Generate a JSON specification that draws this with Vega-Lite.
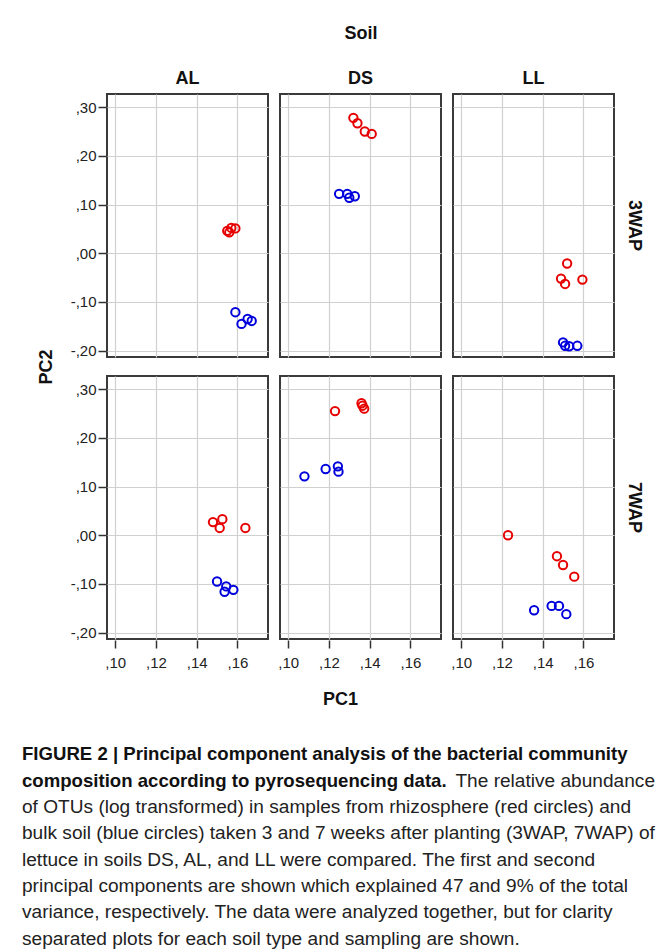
{
  "$schema": "https://vega.github.io/schema/vega-lite/v6.json",
  "background": "white",
  "padding": {"left": 22, "top": 25, "right": 10, "bottom": 5},
  "datasets": {
    "pca": [
      {"Soil": "AL", "Time": "3WAP", "Sample": "Rhizosphere", "PC1": 0.155, "PC2": 0.046},
      {"Soil": "AL", "Time": "3WAP", "Sample": "Rhizosphere", "PC1": 0.157, "PC2": 0.052},
      {"Soil": "AL", "Time": "3WAP", "Sample": "Rhizosphere", "PC1": 0.159, "PC2": 0.051},
      {"Soil": "AL", "Time": "3WAP", "Sample": "Rhizosphere", "PC1": 0.156, "PC2": 0.043},
      {"Soil": "AL", "Time": "3WAP", "Sample": "Bulk soil", "PC1": 0.159, "PC2": -0.121},
      {"Soil": "AL", "Time": "3WAP", "Sample": "Bulk soil", "PC1": 0.162, "PC2": -0.145},
      {"Soil": "AL", "Time": "3WAP", "Sample": "Bulk soil", "PC1": 0.165, "PC2": -0.135},
      {"Soil": "AL", "Time": "3WAP", "Sample": "Bulk soil", "PC1": 0.167, "PC2": -0.139},
      {"Soil": "DS", "Time": "3WAP", "Sample": "Rhizosphere", "PC1": 0.132, "PC2": 0.278},
      {"Soil": "DS", "Time": "3WAP", "Sample": "Rhizosphere", "PC1": 0.134, "PC2": 0.267},
      {"Soil": "DS", "Time": "3WAP", "Sample": "Rhizosphere", "PC1": 0.1376, "PC2": 0.25},
      {"Soil": "DS", "Time": "3WAP", "Sample": "Rhizosphere", "PC1": 0.141, "PC2": 0.245},
      {"Soil": "DS", "Time": "3WAP", "Sample": "Bulk soil", "PC1": 0.125, "PC2": 0.122},
      {"Soil": "DS", "Time": "3WAP", "Sample": "Bulk soil", "PC1": 0.129, "PC2": 0.122},
      {"Soil": "DS", "Time": "3WAP", "Sample": "Bulk soil", "PC1": 0.130, "PC2": 0.114},
      {"Soil": "DS", "Time": "3WAP", "Sample": "Bulk soil", "PC1": 0.1327, "PC2": 0.117},
      {"Soil": "LL", "Time": "3WAP", "Sample": "Rhizosphere", "PC1": 0.152, "PC2": -0.021},
      {"Soil": "LL", "Time": "3WAP", "Sample": "Rhizosphere", "PC1": 0.149, "PC2": -0.052},
      {"Soil": "LL", "Time": "3WAP", "Sample": "Rhizosphere", "PC1": 0.151, "PC2": -0.063},
      {"Soil": "LL", "Time": "3WAP", "Sample": "Rhizosphere", "PC1": 0.1595, "PC2": -0.054},
      {"Soil": "LL", "Time": "3WAP", "Sample": "Bulk soil", "PC1": 0.150, "PC2": -0.183},
      {"Soil": "LL", "Time": "3WAP", "Sample": "Bulk soil", "PC1": 0.151, "PC2": -0.19},
      {"Soil": "LL", "Time": "3WAP", "Sample": "Bulk soil", "PC1": 0.153, "PC2": -0.191},
      {"Soil": "LL", "Time": "3WAP", "Sample": "Bulk soil", "PC1": 0.157, "PC2": -0.19},
      {"Soil": "AL", "Time": "7WAP", "Sample": "Rhizosphere", "PC1": 0.148, "PC2": 0.027},
      {"Soil": "AL", "Time": "7WAP", "Sample": "Rhizosphere", "PC1": 0.1526, "PC2": 0.033},
      {"Soil": "AL", "Time": "7WAP", "Sample": "Rhizosphere", "PC1": 0.1513, "PC2": 0.015},
      {"Soil": "AL", "Time": "7WAP", "Sample": "Rhizosphere", "PC1": 0.1639, "PC2": 0.015},
      {"Soil": "AL", "Time": "7WAP", "Sample": "Bulk soil", "PC1": 0.150, "PC2": -0.095},
      {"Soil": "AL", "Time": "7WAP", "Sample": "Bulk soil", "PC1": 0.1545, "PC2": -0.105},
      {"Soil": "AL", "Time": "7WAP", "Sample": "Bulk soil", "PC1": 0.1537, "PC2": -0.116},
      {"Soil": "AL", "Time": "7WAP", "Sample": "Bulk soil", "PC1": 0.158, "PC2": -0.112},
      {"Soil": "DS", "Time": "7WAP", "Sample": "Rhizosphere", "PC1": 0.123, "PC2": 0.255},
      {"Soil": "DS", "Time": "7WAP", "Sample": "Rhizosphere", "PC1": 0.136, "PC2": 0.271},
      {"Soil": "DS", "Time": "7WAP", "Sample": "Rhizosphere", "PC1": 0.1373, "PC2": 0.26},
      {"Soil": "DS", "Time": "7WAP", "Sample": "Rhizosphere", "PC1": 0.1365, "PC2": 0.266},
      {"Soil": "DS", "Time": "7WAP", "Sample": "Bulk soil", "PC1": 0.108, "PC2": 0.121},
      {"Soil": "DS", "Time": "7WAP", "Sample": "Bulk soil", "PC1": 0.1184, "PC2": 0.136},
      {"Soil": "DS", "Time": "7WAP", "Sample": "Bulk soil", "PC1": 0.1244, "PC2": 0.1415},
      {"Soil": "DS", "Time": "7WAP", "Sample": "Bulk soil", "PC1": 0.1247, "PC2": 0.1306},
      {"Soil": "LL", "Time": "7WAP", "Sample": "Rhizosphere", "PC1": 0.123, "PC2": 0.0},
      {"Soil": "LL", "Time": "7WAP", "Sample": "Rhizosphere", "PC1": 0.147, "PC2": -0.043},
      {"Soil": "LL", "Time": "7WAP", "Sample": "Rhizosphere", "PC1": 0.150, "PC2": -0.061},
      {"Soil": "LL", "Time": "7WAP", "Sample": "Rhizosphere", "PC1": 0.1555, "PC2": -0.085},
      {"Soil": "LL", "Time": "7WAP", "Sample": "Bulk soil", "PC1": 0.1358, "PC2": -0.154},
      {"Soil": "LL", "Time": "7WAP", "Sample": "Bulk soil", "PC1": 0.1444, "PC2": -0.145},
      {"Soil": "LL", "Time": "7WAP", "Sample": "Bulk soil", "PC1": 0.148, "PC2": -0.145},
      {"Soil": "LL", "Time": "7WAP", "Sample": "Bulk soil", "PC1": 0.1516, "PC2": -0.162}
    ],
    "caption": [
      {"line": 1, "style": "bold", "pos": 0, "text": "FIGURE 2 | Principal component analysis of the bacterial community"},
      {"line": 2, "style": "bold", "pos": 0, "text": "composition according to pyrosequencing data."},
      {"line": 2, "style": "regular", "pos": 1, "text": "The relative abundance"},
      {"line": 3, "style": "regular", "pos": 0, "text": "of OTUs (log transformed) in samples from rhizosphere (red circles) and"},
      {"line": 4, "style": "regular", "pos": 0, "text": "bulk soil (blue circles) taken 3 and 7 weeks after planting (3WAP, 7WAP) of"},
      {"line": 5, "style": "regular", "pos": 0, "text": "lettuce in soils DS, AL, and LL were compared. The first and second"},
      {"line": 6, "style": "regular", "pos": 0, "text": "principal components are shown which explained 47 and 9% of the total"},
      {"line": 7, "style": "regular", "pos": 0, "text": "variance, respectively. The data were analyzed together, but for clarity"},
      {"line": 8, "style": "regular", "pos": 0, "text": "separated plots for each soil type and sampling are shown."}
    ]
  },
  "config": {
    "font": "Liberation Sans",
    "view": {"stroke": "#3a3a3a", "strokeWidth": 2},
    "axis": {
      "labelFont": "Liberation Sans", "labelFontSize": 15, "labelColor": "#222",
      "tickColor": "#333", "tickSize": 8, "tickWidth": 1.5, "domain": false,
      "gridColor": "#d0d0d0", "gridWidth": 1.2, "labelPadding": 2
    },
    "header": {
      "labelFont": "Liberation Sans", "titleFont": "Liberation Sans",
      "labelFontSize": 18, "labelFontWeight": "bold", "labelColor": "#111",
      "titleFontSize": 18, "titleFontWeight": "bold", "titleColor": "#111"
    },
    "concat": {"spacing": 32}
  },
  "vconcat": [
    {
      "spacing": 0,
      "hconcat": [
        {
          "width": 16, "height": 1,
          "view": {"stroke": null, "fill": "white"},
          "data": {"values": []},
          "mark": "point",
          "encoding": {}
        },
        {
          "data": {"name": "pca"},
          "title": {"text": "PC1", "orient": "bottom", "anchor": "middle", "frame": "bounds", "fontSize": 18, "fontWeight": "bold", "font": "Liberation Sans", "color": "#111", "offset": 21},
          "spacing": {"column": 10, "row": 17},
          "facet": {
            "column": {"field": "Soil", "type": "nominal", "sort": ["AL", "DS", "LL"],
              "header": {"title": "Soil", "titlePadding": 17, "labelPadding": 5}},
            "row": {"field": "Time", "type": "nominal", "sort": ["3WAP", "7WAP"],
              "header": {"title": "PC2", "titleOrient": "left", "titlePadding": 4, "labelOrient": "right", "labelAngle": 90, "labelPadding": 10}}
          },
          "spec": {
            "width": 161, "height": 263,
            "mark": {"type": "point", "shape": "circle", "filled": false, "strokeWidth": 2, "size": 70, "opacity": 1},
            "encoding": {
              "x": {"field": "PC1", "type": "quantitative",
                "scale": {"domain": [0.096, 0.175], "nice": false, "zero": false},
                "axis": {"title": null, "values": [0.10, 0.12, 0.14, 0.16], "labelPadding": 7,
                  "labelExpr": "(datum.value < 0 ? '-' : '') + ',' + format(abs(datum.value) * 100, '02.0f')"}},
              "y": {"field": "PC2", "type": "quantitative",
                "scale": {"domain": [-0.213, 0.327], "nice": false, "zero": false},
                "axis": {"title": null, "values": [-0.2, -0.1, 0, 0.1, 0.2, 0.3],
                  "labelExpr": "(datum.value < 0 ? '-' : '') + ',' + format(abs(datum.value) * 100, '02.0f')"}},
              "color": {"field": "Sample", "type": "nominal",
                "scale": {"domain": ["Rhizosphere", "Bulk soil"], "range": ["#e60000", "#0000dd"]},
                "legend": null}
            }
          }
        }
      ]
    },
    {
      "width": 633, "height": 211,
      "view": {"stroke": null},
      "data": {"name": "caption"},
      "encoding": {
        "y": {"field": "line", "type": "ordinal", "axis": null, "scale": {"paddingInner": 0, "paddingOuter": 0}},
        "x": {"field": "pos", "type": "quantitative", "axis": null, "scale": {"domain": [0, 1]}},
        "text": {"field": "text"}
      },
      "layer": [
        {"transform": [{"filter": "datum.style == 'bold'"}],
         "mark": {"type": "text", "align": "left", "baseline": "middle", "font": "Liberation Sans", "fontSize": 18.6, "fontWeight": "bold", "color": "#111"}},
        {"transform": [{"filter": "datum.style == 'regular' && datum.pos == 0"}],
         "mark": {"type": "text", "align": "left", "baseline": "middle", "font": "Liberation Sans", "fontSize": 19.1, "color": "#222"}},
        {"transform": [{"filter": "datum.style == 'regular' && datum.pos == 1"}],
         "mark": {"type": "text", "align": "right", "baseline": "middle", "font": "Liberation Sans", "fontSize": 19.1, "color": "#222"}}
      ]
    }
  ]
}
